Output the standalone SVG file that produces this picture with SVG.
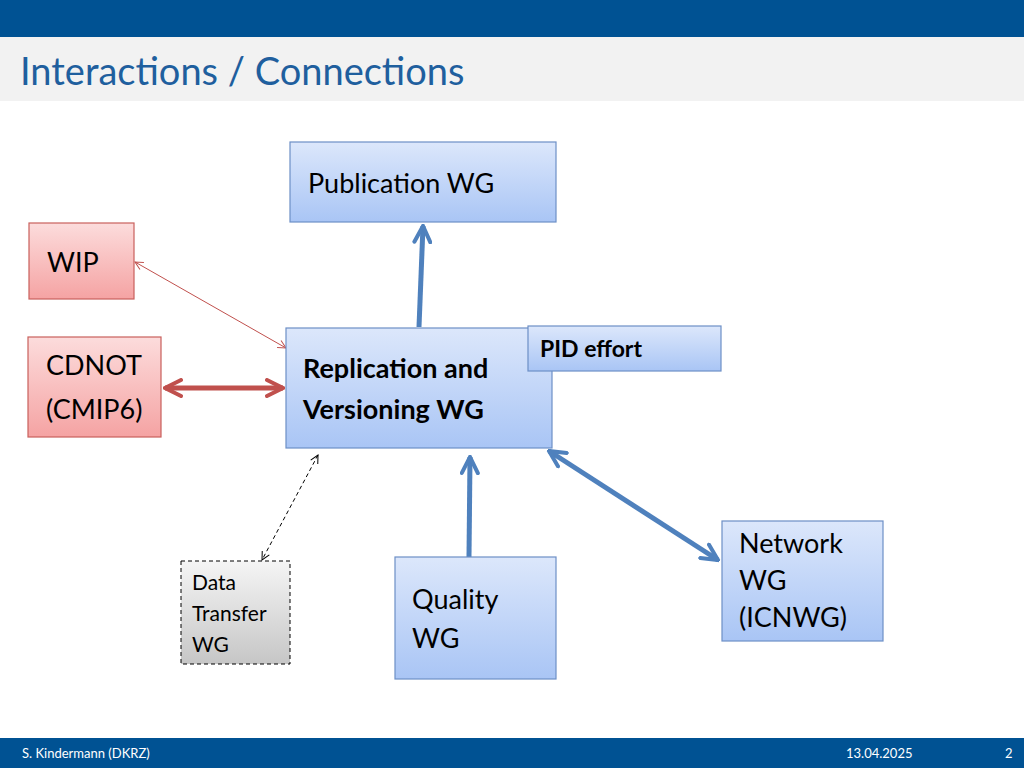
<svg xmlns="http://www.w3.org/2000/svg" width="1024" height="768" viewBox="0 0 1024 768">
<style>
text{font-family:Lato,"Noto Sans","Liberation Sans",sans-serif;fill:#000}
.blue{fill:url(#gb);stroke:#6d8fc6;stroke-width:1.2}
.red{fill:url(#gr);stroke:#c9605c;stroke-width:1.2}
.t{font-size:27px}
</style>
<defs>
<linearGradient id="gb" x1="0" y1="0" x2="0" y2="1"><stop offset="0" stop-color="#dce7fb"/><stop offset="1" stop-color="#a9c5f5"/></linearGradient>
<linearGradient id="gr" x1="0" y1="0" x2="0" y2="1"><stop offset="0" stop-color="#fcdcdc"/><stop offset="1" stop-color="#f5a3a3"/></linearGradient>
<linearGradient id="gg" x1="0" y1="0" x2="0" y2="1"><stop offset="0" stop-color="#f5f5f5"/><stop offset="1" stop-color="#c6c6c6"/></linearGradient>
<marker id="ab" viewBox="0 0 10 10" refX="9" refY="5" markerWidth="4" markerHeight="4" orient="auto-start-reverse"><path d="M1,1 L9,5 L1,9" fill="none" stroke="#4f81bd" stroke-width="2" stroke-linecap="round"/></marker>
<marker id="ar" viewBox="0 0 10 10" refX="9" refY="5" markerWidth="4" markerHeight="4" orient="auto-start-reverse"><path d="M1,1 L9,5 L1,9" fill="none" stroke="#c0504d" stroke-width="2" stroke-linecap="round"/></marker>
<marker id="art" viewBox="0 0 10 10" refX="9" refY="5" markerWidth="10" markerHeight="10" orient="auto-start-reverse"><path d="M1,1 L9,5 L1,9" fill="none" stroke="#c0504d" stroke-width="1"/></marker>
<marker id="ak" viewBox="0 0 10 10" refX="9" refY="5" markerWidth="10" markerHeight="10" orient="auto-start-reverse"><path d="M1,1 L9,5 L1,9" fill="none" stroke="#000" stroke-width="1"/></marker>
</defs>
<rect width="1024" height="768" fill="#fff"/>
<rect width="1024" height="37" fill="#005293"/>
<rect y="37" width="1024" height="64" fill="#f2f2f2"/>
<text x="20" y="85" style="font-size:38px;fill:#1f5f9e">Interactions / Connections</text>
<rect y="738" width="1024" height="30" fill="#005293"/>
<text x="22" y="758" style="font-size:13px;fill:#fff">S. Kindermann (DKRZ)</text>
<text x="846" y="758" style="font-size:13px;fill:#fff">13.04.2025</text>
<text x="1005" y="758" style="font-size:13px;fill:#fff">2</text>

<g id="connectors" fill="none">
<line x1="419" y1="327" x2="423" y2="226" stroke="#4f81bd" stroke-width="5" marker-end="url(#ab)"/>
<line x1="286" y1="348" x2="135" y2="262" stroke="#c0504d" stroke-width="1" marker-start="url(#art)" marker-end="url(#art)"/>
<line x1="165" y1="388" x2="283" y2="388" stroke="#c0504d" stroke-width="5" marker-start="url(#ar)" marker-end="url(#ar)"/>
<line x1="318" y1="455" x2="262" y2="560" stroke="#000" stroke-width="1" stroke-dasharray="4,3" marker-start="url(#ak)" marker-end="url(#ak)"/>
<line x1="469" y1="557" x2="470" y2="457" stroke="#4f81bd" stroke-width="5" marker-end="url(#ab)"/>
<line x1="549" y1="451" x2="718" y2="560" stroke="#4f81bd" stroke-width="5" marker-start="url(#ab)" marker-end="url(#ab)"/>
</g>

<g id="publication"><rect class="blue" x="290" y="142" width="266" height="80"/><text class="t" x="308" y="193">Publication WG</text></g>
<g id="wip"><rect class="red" x="29" y="223" width="105" height="76"/><text class="t" x="47" y="272">WIP</text></g>
<g id="cdnot"><rect class="red" x="28" y="337" width="133" height="100"/><text class="t" x="46" y="375">CDNOT</text><text class="t" x="46" y="419">(CMIP6)</text></g>
<g id="replication"><rect class="blue" x="286" y="328" width="266" height="120"/><text class="t" x="303" y="378" font-weight="bold">Replication and</text><text class="t" x="303" y="419" font-weight="bold">Versioning WG</text></g>
<g id="pid"><rect class="blue" x="528" y="326" width="193" height="45"/><text x="540" y="357" style="font-size:23px;font-weight:bold">PID effort</text></g>
<g id="datatransfer"><rect x="181" y="561" width="109" height="103" fill="url(#gg)" stroke="#000" stroke-width="1" stroke-dasharray="4,3"/><text x="192" y="590" style="font-size:21px">Data</text><text x="192" y="621" style="font-size:21px">Transfer</text><text x="192" y="652" style="font-size:21px">WG</text></g>
<g id="quality"><rect class="blue" x="395" y="557" width="161" height="122"/><text class="t" x="412" y="609">Quality</text><text class="t" x="412" y="648">WG</text></g>
<g id="network"><rect class="blue" x="722" y="521" width="161" height="120"/><text class="t" x="739" y="553">Network</text><text class="t" x="739" y="590">WG</text><text class="t" x="739" y="627">(ICNWG)</text></g>
</svg>
